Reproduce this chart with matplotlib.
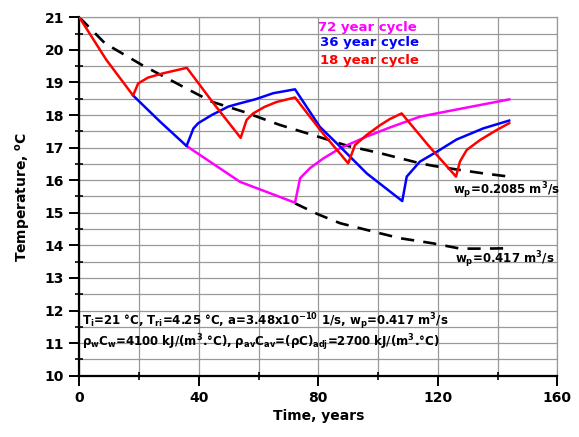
import matplotlib
matplotlib.use("Agg")
import matplotlib.pyplot as plt
from matplotlib.ticker import MultipleLocator

plt.rcParams['font.family'] = ['DejaVu Sans']
plt.rcParams['font.weight'] = 'bold'
plt.rcParams['mathtext.default'] = 'bf'

# 18 year cycle (red)
t18 = [0, 9, 18, 19.7, 23, 28, 36, 45, 54, 56, 58.2, 62, 66, 72.2, 81, 90, 92.3, 96.2, 100.7, 104, 107.9, 117, 126.1, 127.4, 129.7, 134.1, 139.7, 143.9]
T18 = [21, 19.7, 18.6, 18.97, 19.15, 19.28, 19.45, 18.35, 17.3, 17.85, 18.05, 18.25, 18.4, 18.54, 17.5, 16.52, 17.08, 17.39, 17.69, 17.88, 18.05, 17.05, 16.11, 16.57, 16.93, 17.23, 17.54, 17.75]

# 36 year cycle (blue)
t36 = [18, 27, 35.9, 38.2, 39.8, 44.3, 49.9, 53.8, 58.8, 64.9, 72.2, 80.5, 86.2, 96.2, 108.1, 109.6, 114, 119.6, 126.3, 135.2, 143.9]
T36 = [18.6, 17.8, 17.05, 17.59, 17.75, 18.0, 18.26, 18.36, 18.48, 18.67, 18.79, 17.64, 17.13, 16.21, 15.36, 16.11, 16.57, 16.87, 17.25, 17.59, 17.83]

# 72 year cycle (magenta)
t72 = [35.9, 53.8, 72.2, 73.9, 77.2, 81.7, 87.3, 96.2, 104, 114, 126.3, 143.9]
T72 = [17.05, 15.95, 15.31, 16.06, 16.37, 16.67, 16.98, 17.34, 17.62, 17.95, 18.17, 18.48]

# w_p = 0.2085 m3/s (dashed)
tA = [0, 8.6, 20.9, 34.3, 44.3, 55.0, 67, 80.5, 90, 100.7, 114, 118.5, 127, 135.2, 143.9]
TA = [21, 20.2, 19.54, 18.89, 18.41, 18.1, 17.7, 17.32, 17.05, 16.83, 16.52, 16.44, 16.32, 16.21, 16.11]

# w_p = 0.417 m3/s (dashed, after 72 years)
tB = [72.2, 80, 87.3, 100.7, 107.3, 113, 118.5, 127.5, 135, 144]
TB = [15.29, 14.95, 14.68, 14.37, 14.22, 14.14, 14.06, 13.9, 13.9, 13.91]

fig = plt.figure(figsize=(5.79, 4.37), dpi=100)
ax = fig.add_axes([0.137, 0.1403, 0.8255, 0.8201])

ax.set_xlim(0, 160)
ax.set_ylim(10, 21)
ax.xaxis.set_major_locator(MultipleLocator(40))
ax.xaxis.set_minor_locator(MultipleLocator(20))
ax.yaxis.set_major_locator(MultipleLocator(1))
ax.yaxis.set_minor_locator(MultipleLocator(0.5))
ax.grid(True, which='both', color='#999999', linewidth=0.9, zorder=0)
ax.set_axisbelow(True)

for s in ['left', 'bottom']:
    ax.spines[s].set_linewidth(1.6)
    ax.spines[s].set_color('black')
for s in ['top', 'right']:
    ax.spines[s].set_linewidth(0.9)
    ax.spines[s].set_color('#999999')

ax.tick_params(which='major', direction='out', length=7, width=1.4, labelsize=10, pad=4)
ax.tick_params(which='minor', direction='inout', length=6, width=1.2)
ax.tick_params(top=False, right=False, which='both')
for lab in ax.get_xticklabels() + ax.get_yticklabels():
    lab.set_fontweight('bold')

dash = (5, 3.5)
ax.plot(tA, TA, color='black', linewidth=1.9, dashes=dash, zorder=2)
ax.plot(tB, TB, color='black', linewidth=1.9, dashes=dash, zorder=2)
ax.plot(t72, T72, color='#ff00ff', linewidth=1.8, zorder=3)
ax.plot(t36, T36, color='#0000ff', linewidth=1.8, zorder=4)
ax.plot(t18, T18, color='#ff0000', linewidth=1.8, zorder=5)

ax.text(80, 20.7, '72 year cycle', color='#ff00ff', fontsize=9.5, fontweight='bold', va='center')
ax.text(80.6, 20.24, '36 year cycle', color='#0000ff', fontsize=9.5, fontweight='bold', va='center')
ax.text(80.6, 19.66, '18 year cycle', color='#ff0000', fontsize=9.5, fontweight='bold', va='center')

ax.text(125.1, 15.68, r'w$_p$=0.2085 m$^3$/s', fontsize=8.5, fontweight='bold', va='center')
ax.text(125.8, 13.57, r'w$_p$=0.417 m$^3$/s', fontsize=8.5, fontweight='bold', va='center')

ax.text(0.8, 11.66, r'T$_i$=21 °C, T$_{ri}$=4.25 °C, a=3.48x10$^{-10}$ 1/s, w$_p$=0.417 m$^3$/s',
        fontsize=8.5, fontweight='bold', va='center')
ax.text(0.8, 11.0, r'$\rho_w$C$_w$=4100 kJ/(m$^3$.°C), $\rho_{av}$C$_{av}$=($\rho$C)$_{adj}$=2700 kJ/(m$^3$.°C)',
        fontsize=8.5, fontweight='bold', va='center')

ax.set_xlabel('Time, years', fontsize=10, fontweight='bold', labelpad=3)
ax.set_ylabel(r'Temperature, $^\mathregular{o}$C', fontsize=10, fontweight='bold', labelpad=8)

fig.savefig('out.png', dpi=100)
